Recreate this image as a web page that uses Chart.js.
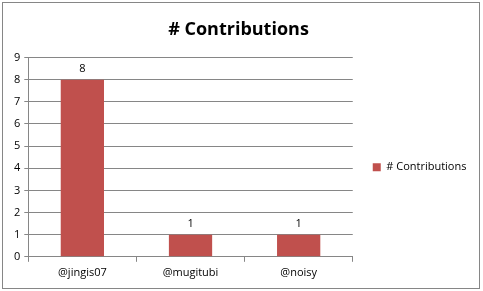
<!DOCTYPE html>
<html>
<head>
<meta charset="utf-8">
<script src="https://cdn.jsdelivr.net/npm/chart.js@4"></script>
<style>
  body { margin: 0; background: #fff; }
  #wrap { position: relative; width: 483px; height: 291px; }
  #frame { position: absolute; left: 2px; top: 2px; width: 476px; height: 285px; border: 1px solid #868686; pointer-events: none; }
</style>
</head>
<body>
<div id="wrap">
  <canvas id="chart" width="483" height="291"></canvas>
  <div id="frame"></div>
</div>
<script>
// chart data
const categories = ['@jingis07', '@mugitubi', '@noisy'];
const contributions = [8, 1, 1];
const seriesName = '# Contributions';
const titleText = '# Contributions';

const FONT = "'Open Sans', 'Liberation Sans', sans-serif";

// draws the value above each bar
const valueLabels = {
  id: 'valueLabels',
  afterDatasetsDraw(chart) {
    const ctx = chart.ctx;
    ctx.save();
    ctx.font = '11px ' + FONT;
    ctx.fillStyle = '#000';
    ctx.textAlign = 'center';
    ctx.textBaseline = 'bottom';
    chart.getDatasetMeta(0).data.forEach((bar, i) => {
      ctx.fillText(contributions[i], bar.x, bar.y - 5);
    });
    ctx.restore();
  }
};

const ctx = document.getElementById('chart').getContext('2d');
const chart = new Chart(ctx, {
  type: 'bar',
  data: {
    labels: categories,
    datasets: [{
      label: seriesName,
      data: contributions,
      backgroundColor: '#C0504D',
      borderWidth: 0,
      categoryPercentage: 1,
      barPercentage: 0.4
    }]
  },
  options: {
    responsive: false,
    animation: false,
    layout: { padding: { left: 10, right: 16, top: 0, bottom: 8 } },
    plugins: {
      title: {
        display: true,
        text: titleText,
        color: '#000',
        font: { family: FONT, size: 18, weight: 'bold' },
        padding: { top: 19, bottom: 17 }
      },
      legend: {
        position: 'right',
        fullSize: false,
        // empty title only to push the item down a little
        title: { display: true, text: ' ', font: { size: 1 }, padding: { top: 0, bottom: 19 } },
        labels: {
          boxWidth: 8,
          boxHeight: 8,
          padding: 20,
          color: '#000',
          font: { family: FONT, size: 11 }
        }
      },
      tooltip: { enabled: false }
    },
    scales: {
      y: {
        min: 0,
        max: 9,
        ticks: { stepSize: 1, color: '#000', padding: 4, font: { family: FONT, size: 11 } },
        grid: { color: '#868686', tickLength: 4 },
        border: { color: '#868686' }
      },
      x: {
        ticks: { color: '#000', padding: 4, font: { family: FONT, size: 11 } },
        grid: { drawOnChartArea: false, color: '#868686', tickLength: 5 },
        border: { color: '#868686' }
      }
    }
  },
  plugins: [valueLabels]
});
</script>
</body>
</html>
